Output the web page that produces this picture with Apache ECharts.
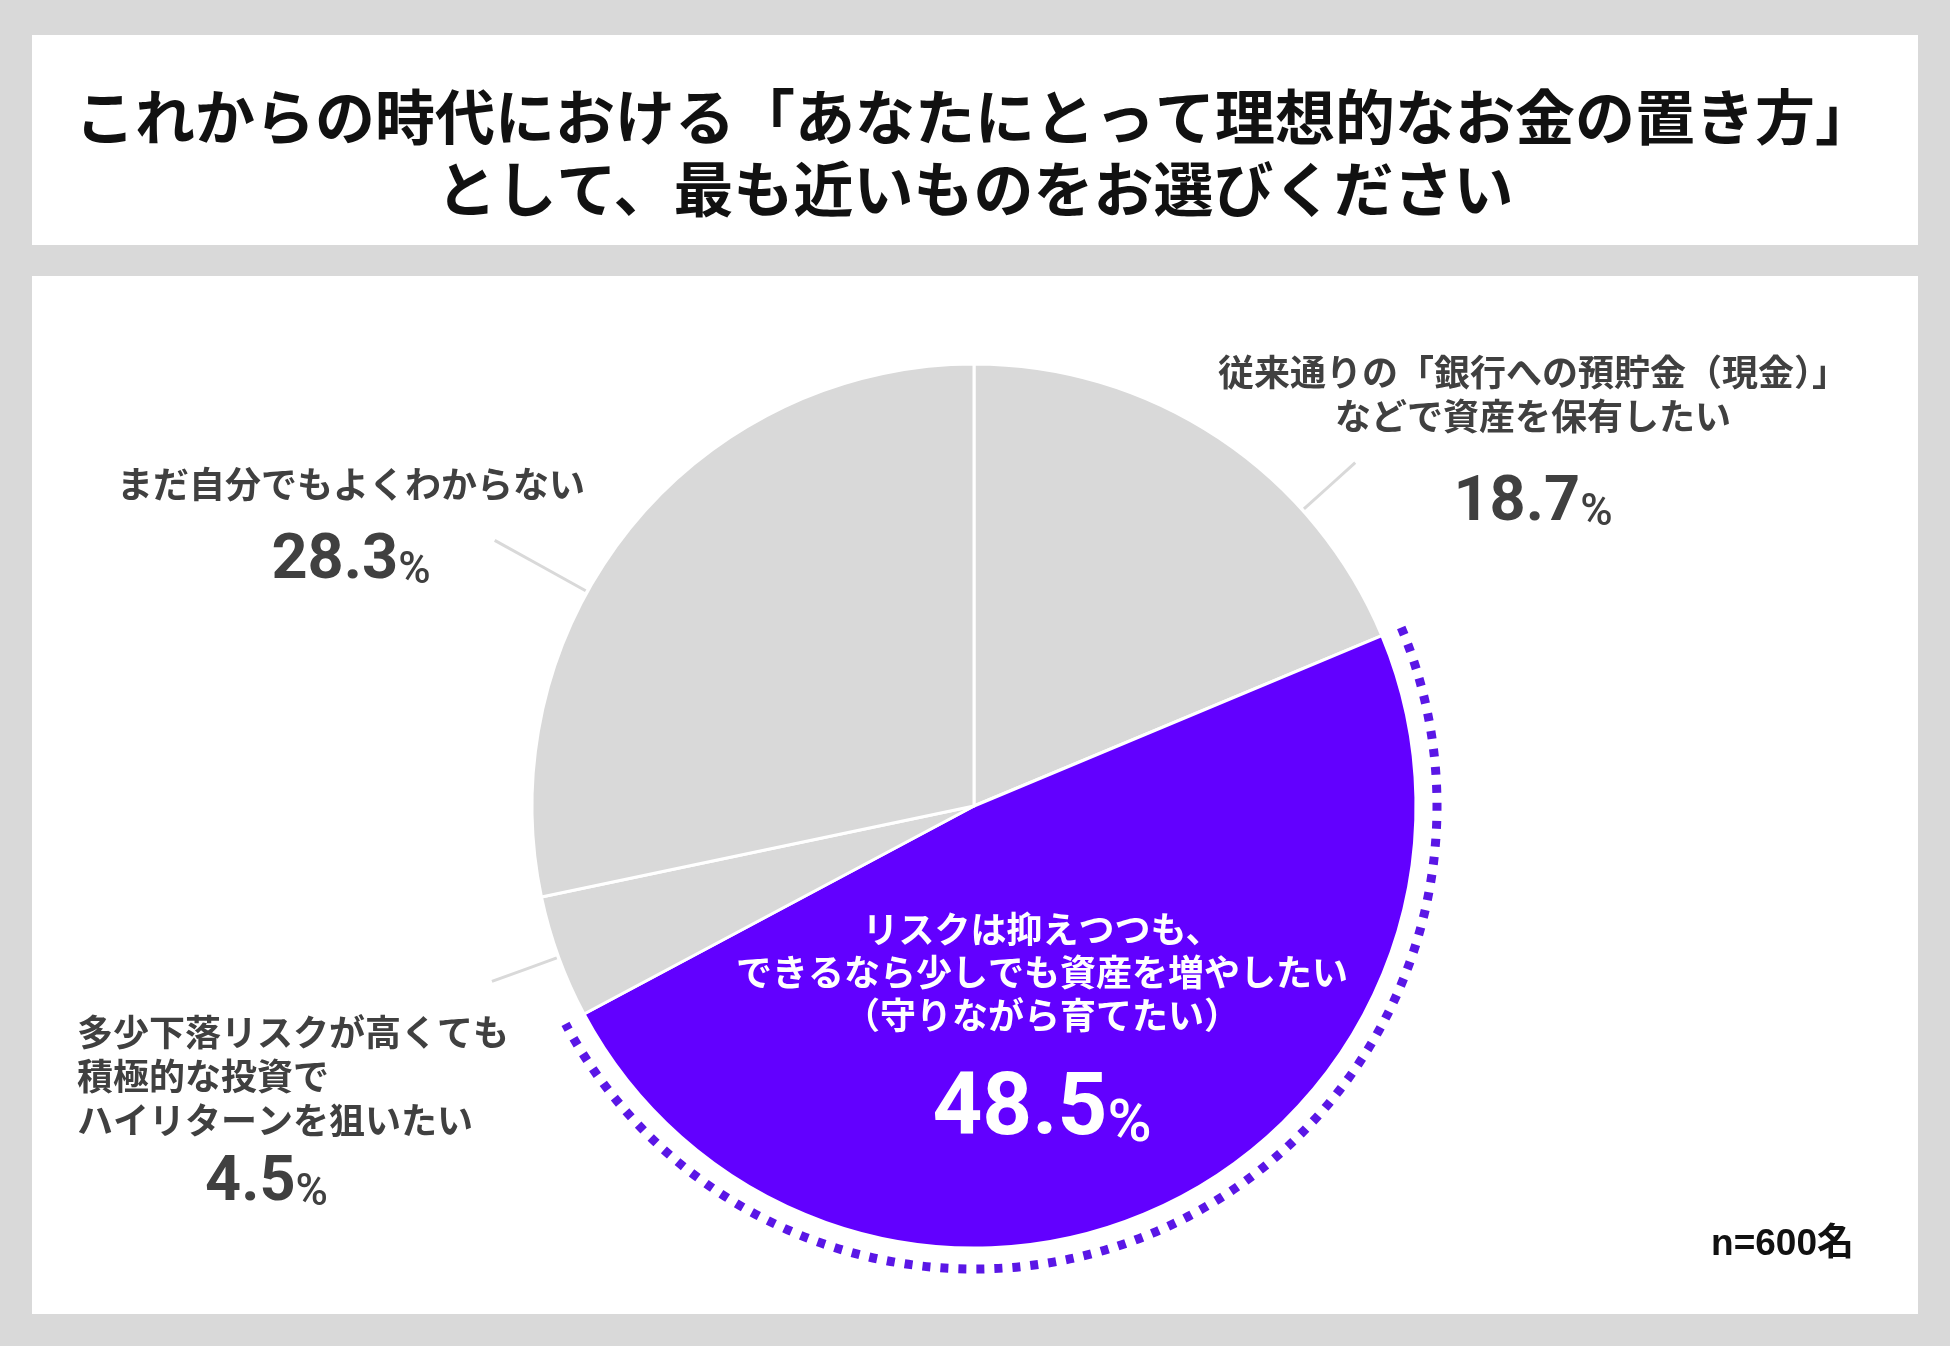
<!DOCTYPE html>
<html>
<head>
<meta charset="utf-8">
<script src="https://cdn.jsdelivr.net/npm/echarts@6/dist/echarts.min.js"></script>
<style>
    html, body { margin: 0; padding: 0; background: #d9d9d9; }
    #chart { width: 1950px; height: 1346px; }
</style>
</head>
<body>
<div id="chart"></div>
<script>
const titleLines = ['これからの時代における「あなたにとって理想的なお金の置き方」', 'として、最も近いものをお選びください'];
const categories = [
    '従来通りの「銀行への預貯金（現金）」\nなどで資産を保有したい',
    'リスクは抑えつつも、\nできるなら少しでも資産を増やしたい\n（守りながら育てたい）',
    '多少下落リスクが高くても\n積極的な投資で\nハイリターンを狙いたい',
    'まだ自分でもよくわからない',
];
const shares = [18.7, 48.5, 4.5, 28.3];
const sampleNote = 'n=600名';
const highlightIndex = 1;

let chartDom = document.getElementById('chart');
let myChart = echarts.init(chartDom);

const center = [974, 806];
const radius = 442;
const sliceColors = ['#d9d9d9', '#6200ff', '#d9d9d9', '#d9d9d9'];

// label blocks: anchor point and leader (angle from top, outer radius)
const labelSpots = [
    {x: 1533, y: 350, align: 'center', lead: [48, 513]},
    {x: 1042, y: 908, align: 'center'},
    {x: 77, y: 1010, align: 'left', lead: [250, 513]},
    {x: 351, y: 462, align: 'center', lead: [299, 548]},
];

const polarPoint = (deg, r) => {
    const a = deg * Math.PI / 180;
    return [center[0] + r * Math.sin(a), center[1] - r * Math.cos(a)];
};

// dotted arc around the highlighted slice, from cumulative shares
const total = shares.reduce((s, v) => s + v, 0);
const before = shares.slice(0, highlightIndex).reduce((s, v) => s + v, 0);
const arcStart = -Math.PI / 2 + 2 * Math.PI * before / total;
const arcEnd = -Math.PI / 2 + 2 * Math.PI * (before + shares[highlightIndex]) / total;

const jpFont = '"Noto Sans CJK JP", sans-serif';
const numFont = 'Roboto, "Noto Sans", sans-serif';

// height of the number line per label (numbers sit on the line bottom)
const numLine = [98, 119, 74, 88];
const rich = {
    t: {fontSize: 36, fontWeight: 'bold', color: '#404040', lineHeight: 44, fontFamily: jpFont},
    w: {fontSize: 36, fontWeight: 'bold', color: '#ffffff', lineHeight: 43, fontFamily: jpFont},
};
numLine.forEach((L, i) => {
    const big = i === highlightIndex;
    rich['n' + i] = {
        fontSize: big ? 87 : 63, fontWeight: 'bold', fontFamily: numFont,
        color: big ? '#ffffff' : '#404040', lineHeight: L,
        verticalAlign: 'bottom',
        padding: i === 2 ? [0, 0, 0, 128] : 0,
    };
    rich['p' + i] = {
        fontSize: big ? 60 : 44, fontWeight: 500, fontFamily: numFont,
        color: big ? '#ffffff' : '#404040', lineHeight: L,
        verticalAlign: 'bottom',
    };
});

const option = {
    backgroundColor: '#d9d9d9',
    animation: false,
    graphic: [
        {type: 'rect', z: -10, shape: {x: 32, y: 35, width: 1886, height: 210}, style: {fill: '#ffffff'}},
        {type: 'rect', z: -10, shape: {x: 32, y: 276, width: 1886, height: 1038}, style: {fill: '#ffffff'}},
        {
            type: 'arc',
            z: 10,
            shape: {cx: center[0], cy: center[1], r: 463, startAngle: arcStart, endAngle: arcEnd, clockwise: true},
            style: {stroke: '#5a16e6', lineWidth: 9, lineDash: [8, 10], fill: null},
        },
    ],
    title: [
        {
            text: titleLines.join('\n'),
            left: 'center',
            top: 76,
            textStyle: {fontSize: 60, fontWeight: 'bold', lineHeight: 72, color: '#111111', fontFamily: jpFont},
        },
        {
            text: sampleNote,
            right: 91,
            top: 1218,
            textStyle: {fontSize: 37, fontWeight: 'bold', lineHeight: 44, color: '#111111', fontFamily: '"Liberation Sans", "Noto Sans CJK JP", sans-serif'},
        },
    ],
    series: [
        {
            type: 'pie',
            center: center,
            radius: radius,
            startAngle: 90,
            clockwise: true,
            avoidLabelOverlap: false,
            itemStyle: {borderColor: '#ffffff', borderWidth: 3},
            emphasis: {disabled: true},
            label: {
                show: true,
                position: 'outside',
                formatter: params => {
                    const i = params.dataIndex;
                    const tag = i === highlightIndex ? 'w' : 't';
                    const lines = params.name.split('\n').map(s => '{' + tag + '|' + s + '}');
                    lines.push('{n' + i + '|' + params.value.toFixed(1) + '}{p' + i + '|%}');
                    return lines.join('\n');
                },
                rich: rich,
            },
            labelLine: {show: true, lineStyle: {color: '#d9d9d9', width: 3}},
            labelLayout: params => {
                const spot = labelSpots[params.dataIndex];
                const out = {x: spot.x, y: spot.y, align: spot.align, verticalAlign: 'top'};
                if (spot.lead) {
                    const a = polarPoint(spot.lead[0], radius + 2);
                    const b = polarPoint(spot.lead[0], (radius + spot.lead[1]) / 2);
                    const c = polarPoint(spot.lead[0], spot.lead[1]);
                    out.labelLinePoints = [a, b, c];
                }
                return out;
            },
            data: shares.map((v, i) => ({
                name: categories[i],
                value: v,
                itemStyle: {color: sliceColors[i]},
                labelLine: {show: i !== highlightIndex},
            })),
        },
    ],
};

myChart.setOption(option);
</script>
</body>
</html>
